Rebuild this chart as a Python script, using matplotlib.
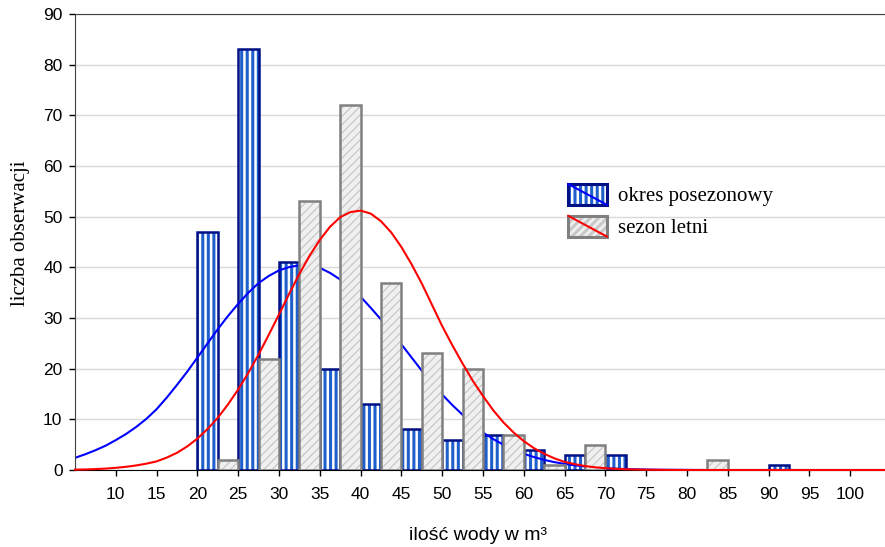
import numpy as np
import matplotlib
matplotlib.use("Agg")
import matplotlib.pyplot as plt
from matplotlib.patches import Rectangle
from matplotlib.lines import Line2D
from matplotlib.legend_handler import HandlerBase

# histogram classes (left edge of each class, m3)
categories = [10, 15, 20, 25, 30, 35, 40, 45, 50, 55, 60, 65, 70, 75, 80, 85, 90, 95, 100]
post_counts = [0, 0, 47, 83, 41, 20, 13, 8, 6, 7, 4, 3, 3, 0, 0, 0, 1, 0, 0]
summer_counts = [0, 0, 2, 22, 53, 72, 37, 23, 20, 7, 1, 5, 0, 0, 2, 0, 0, 0, 0]

# fitted curves, every 1.25 m3 from 5 to 105
curve_x = np.arange(5, 105.01, 1.25)
post_curve = [2.4, 3.1, 3.9, 4.8, 5.9, 7.1, 8.5, 10.1, 12.0, 14.3,
              16.8, 19.4, 22.2, 25.0, 27.8, 30.4, 32.8, 35.0, 36.9, 38.3,
              39.4, 40.05, 40.4, 40.3, 39.9, 38.9, 37.6, 36.0, 34.2, 32.0,
              29.7, 27.3, 24.8, 22.2, 19.6, 17.2, 14.9, 12.8, 10.9, 9.0,
              7.4, 6.1, 5.0, 4.0, 3.2, 2.55, 2.0, 1.55, 1.2, 0.92,
              0.7, 0.5, 0.35, 0.26, 0.18, 0.13, 0.09, 0.06, 0.04, 0.03,
              0.02, 0.01, 0, 0, 0, 0, 0, 0, 0, 0,
              0, 0, 0, 0, 0, 0, 0, 0, 0, 0, 0]
summer_curve = [0.07, 0.11, 0.18, 0.28, 0.43, 0.63, 0.9, 1.25, 1.7, 2.45,
                3.4, 4.65, 6.2, 8.1, 10.3, 12.95, 15.9, 19.2, 22.8, 26.7,
                30.7, 34.8, 38.7, 42.3, 45.4, 48.0, 49.9, 50.9, 51.2, 50.6,
                49.1, 46.9, 44.0, 40.6, 36.8, 32.6, 28.4, 24.6, 21.0, 17.6,
                14.6, 11.8, 9.4, 7.4, 5.7, 4.3, 3.2, 2.3, 1.6, 1.15,
                0.78, 0.53, 0.35, 0.24, 0.15, 0.1, 0.06, 0.04, 0.02, 0.01,
                0, 0, 0, 0, 0, 0, 0, 0, 0, 0,
                0, 0, 0, 0, 0, 0, 0, 0, 0, 0, 0]

series_names = ["okres posezonowy", "sezon letni"]
x_ticks = categories
y_ticks = [0, 10, 20, 30, 40, 50, 60, 70, 80, 90]

NAVY = "#001085"
STRIPE = "#1f5fcc"
GREY_EDGE = "#808080"

plt.rcParams['font.family'] = ['Liberation Sans', 'DejaVu Sans']
plt.rcParams['hatch.linewidth'] = 2.2


class BarLineHandler(HandlerBase):
    # excel style legend key: hatched box with the curve drawn across it
    def __init__(self, face, hatch_col, hatch, edge, line_col):
        super().__init__()
        self.face = face
        self.hatch_col = hatch_col
        self.hatch = hatch
        self.edge = edge
        self.line_col = line_col

    def create_artists(self, legend, orig_handle, xdescent, ydescent,
                       width, height, fontsize, trans):
        x0, y0 = -xdescent, -ydescent
        fill = Rectangle((x0, y0), width, height, facecolor=self.face,
                         edgecolor=self.hatch_col, hatch=self.hatch,
                         linewidth=0, transform=trans)
        box = Rectangle((x0, y0), width, height, facecolor='none',
                        edgecolor=self.edge, linewidth=2.2, transform=trans)
        line = Line2D([x0, x0 + width], [y0 + height, y0], color=self.line_col,
                      linewidth=1.5, transform=trans)
        return [fill, box, line]


fig = plt.figure(figsize=(8.85, 5.47), dpi=100)
ax = fig.add_axes([75 / 885, 77 / 547, 810 / 885, 456 / 547])

cats = np.array(categories)
post = np.array(post_counts)
summer = np.array(summer_counts)
pm = post > 0
sm = summer > 0

ax.bar(cats[pm], post[pm], width=2.5, align='edge', facecolor='white',
       edgecolor=STRIPE, hatch='|||', linewidth=0, zorder=2)
ax.bar(cats[pm], post[pm], width=2.5, align='edge', facecolor='none',
       edgecolor=NAVY, linewidth=1.8, zorder=2.1)
ax.plot(curve_x, post_curve, color='#0000ff', linewidth=1.5, zorder=2.5)

grey = ax.bar(cats[sm] + 2.5, summer[sm], width=2.5, align='edge',
              facecolor='#f0f0f0', edgecolor='#c8c8c8', hatch='////',
              linewidth=0, zorder=3)
for p in grey:
    if hasattr(p, 'set_hatch_linewidth'):
        p.set_hatch_linewidth(0.9)
ax.bar(cats[sm] + 2.5, summer[sm], width=2.5, align='edge', facecolor='none',
       edgecolor=GREY_EDGE, linewidth=1.8, zorder=3.1)
ax.plot(curve_x, summer_curve, color='#ff0000', linewidth=1.5, zorder=4,
        clip_on=False)

ax.set_xlim(5, 5 + 810 / 8.16)
ax.set_ylim(0, 90)
ax.set_xticks(x_ticks)
ax.set_yticks(y_ticks)
ax.tick_params(axis='both', direction='out', length=4, width=1,
               labelsize=12.5, colors='black')
ax.tick_params(axis='x', pad=8)
ax.tick_params(axis='y', pad=5)

ax.yaxis.grid(True, color='#d9d9d9', linewidth=1)
ax.set_axisbelow(True)
ax.spines['right'].set_visible(False)
ax.spines['top'].set_color('#404040')
ax.spines['left'].set_color('#404040')
ax.spines['bottom'].set_color('black')

ax.set_ylabel("liczba obserwacji", family=['Liberation Serif', 'DejaVu Serif'],
              fontsize=15)
ax.yaxis.set_label_coords(-0.055, 0.52)
ax.set_xlabel("ilość wody w m³", fontsize=14)
ax.xaxis.set_label_coords(0.497, -0.124)

h1 = Rectangle((0, 0), 1, 1)
h2 = Rectangle((0, 0), 1, 1)
hmap = {
    h1: BarLineHandler('white', STRIPE, '|||', NAVY, '#0000ff'),
    h2: BarLineHandler('#f0f0f0', '#c8c8c8', '////', GREY_EDGE, '#ff0000'),
}
ax.legend([h1, h2], series_names, handler_map=hmap, loc='upper left',
          bbox_to_anchor=(0.609, 0.627), frameon=False, borderpad=0,
          borderaxespad=0, handlelength=1.85, handleheight=1.15,
          handletextpad=0.55, labelspacing=0.45,
          prop={'family': ['Liberation Serif', 'DejaVu Serif'], 'size': 15})

fig.savefig("out.png", dpi=100)
